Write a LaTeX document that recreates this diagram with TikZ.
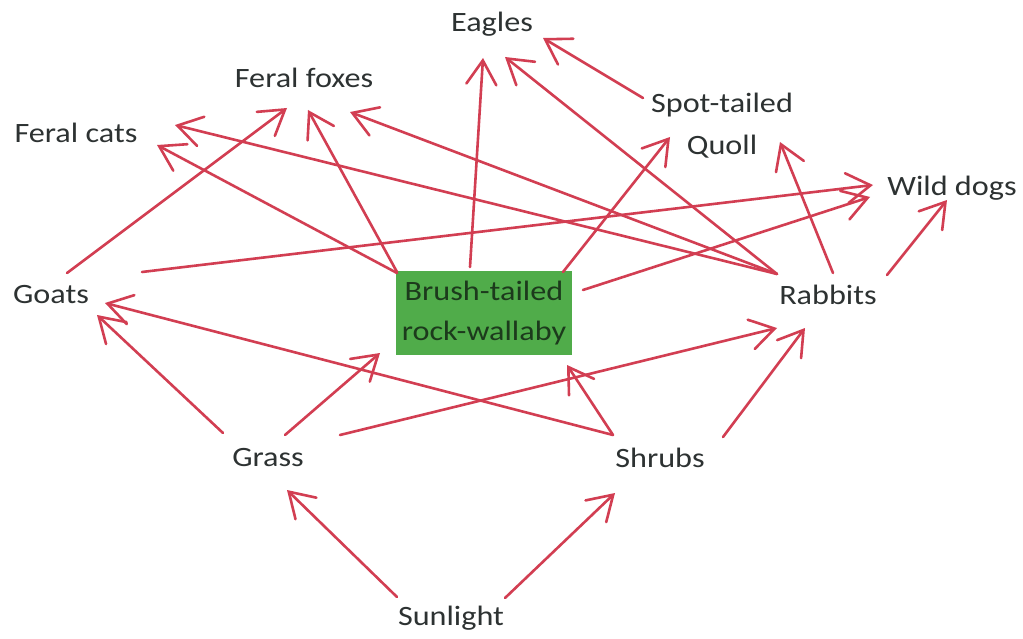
\documentclass[tikz,border=0pt]{standalone}
\usepackage{fontspec}
\setmainfont{Carlito}[FakeStretch=1.15]
\usetikzlibrary{arrows.meta}
\definecolor{linkred}{RGB}{210,62,82}
\definecolor{boxgreen}{RGB}{80,172,74}
\definecolor{labelgray}{RGB}{45,50,50}
\definecolor{boxtext}{RGB}{28,58,28}
\begin{document}
\begin{tikzpicture}[x=1pt,y=-1pt,
  species/.style={font=\fontsize{28}{42}\selectfont, text=labelgray, inner sep=0pt, align=center},
  feeds/.style={draw=linkred, line width=2.6pt, line cap=round,
    -{Straight Barb[length=24pt,width=30pt,line cap=round]}}]
\useasboundingbox[fill=white] (0,0) rectangle (1023,639);

% species
\node[species] (eagles)   at (492,24)  {Eagles};
\node[species] (foxes)    at (304,78)  {Feral foxes};
\node[species] (cats)     at (76,133)  {Feral cats};
\node[species] (quoll)    at (722,126) {Spot-tailed\\Quoll};
\node[species] (dogs)     at (952,188) {Wild dogs};
\node[species] (goats)    at (51,295)  {Goats};
\node[species, fill=boxgreen, text=boxtext, minimum width=176pt, minimum height=83pt,
      font=\fontsize{28}{40}\selectfont] (wallaby) at (484,313) {Brush-tailed\\rock-wallaby};
\node[species] (rabbits)  at (828,295) {Rabbits};
\node[species] (grass)    at (268,458) {Grass};
\node[species] (shrubs)   at (660,458) {Shrubs};
\node[species] (sunlight) at (451,618) {Sunlight};

% who eats whom
\draw[feeds] ([shift={(16,-22)}]goats.center)    -- ([shift={(-17,30)}]foxes.center);
\draw[feeds] ([shift={(91,-23)}]goats.center)    -- ([shift={(-79,-3)}]dogs.center);
\draw[feeds] ([shift={(-87,-40)}]wallaby.center) -- ([shift={(81,12)}]cats.center);
\draw[feeds] ([shift={(-87,-41)}]wallaby.center) -- ([shift={(4,32)}]foxes.center);
\draw[feeds] ([shift={(-51,-21)}]rabbits.center) -- ([shift={(99,-8)}]cats.center);
\draw[feeds] ([shift={(-51,-21)}]rabbits.center) -- ([shift={(46,34)}]foxes.center);
\draw[feeds] ([shift={(-51,-21)}]rabbits.center) -- ([shift={(13,33)}]eagles.center);
\draw[feeds] ([shift={(-14,-46)}]wallaby.center) -- ([shift={(-9,34)}]eagles.center);
\draw[feeds] ([shift={(-79,-28)}]quoll.center)   -- ([shift={(51,14)}]eagles.center);
\draw[feeds] ([shift={(79,-41)}]wallaby.center)  -- ([shift={(-52,11)}]quoll.center);
\draw[feeds] ([shift={(5,-22)}]rabbits.center)   -- ([shift={(58,16)}]quoll.center);
\draw[feeds] ([shift={(59,-20)}]rabbits.center)  -- ([shift={(-5,12)}]dogs.center);
\draw[feeds] ([shift={(99,-23)}]wallaby.center)  -- ([shift={(-82,9)}]dogs.center);
\draw[feeds] ([shift={(-45,-25)}]grass.center)   -- ([shift={(46,20)}]goats.center);
\draw[feeds] ([shift={(-47,-23)}]shrubs.center)  -- ([shift={(54,8)}]goats.center);
\draw[feeds] ([shift={(17,-23)}]grass.center)    -- ([shift={(-104,40)}]wallaby.center);
\draw[feeds] ([shift={(72,-23)}]grass.center)    -- ([shift={(-51,33)}]rabbits.center);
\draw[feeds] ([shift={(-47,-23)}]shrubs.center)  -- ([shift={(83,52)}]wallaby.center);
\draw[feeds] ([shift={(63,-21)}]shrubs.center)   -- ([shift={(-23,33)}]rabbits.center);
\draw[feeds] ([shift={(-54,-21)}]sunlight.center) -- ([shift={(19,32)}]grass.center);
\draw[feeds] ([shift={(54,-20)}]sunlight.center)  -- ([shift={(-45,35)}]shrubs.center);
\end{tikzpicture}
\end{document}
